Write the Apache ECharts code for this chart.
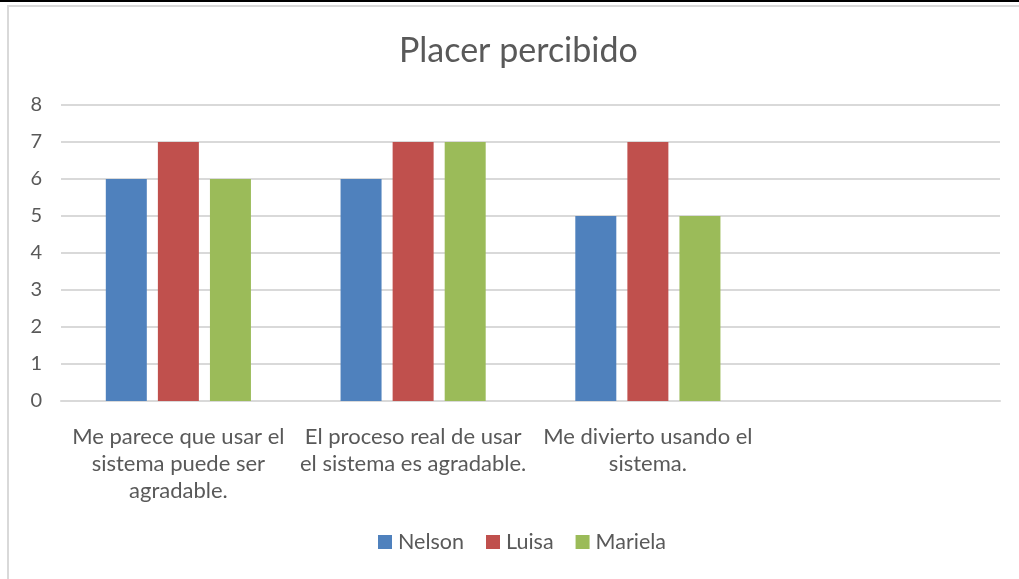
<!DOCTYPE html>
<html>
<head>
<meta charset="utf-8">
<script src="https://cdn.jsdelivr.net/npm/echarts@6/dist/echarts.min.js"></script>
<style>
  html, body { margin: 0; padding: 0; background: #fff; }
  #topline { position: absolute; left: 0; top: 0; width: 1019px; height: 2px; background: #000; }
  #frame { position: absolute; left: 7px; top: 5px; width: 1012px; height: 574px;
           border-left: 2px solid #d9d9d9; border-top: 2px solid #d9d9d9; box-sizing: border-box; }
  #chart { position: absolute; left: 0; top: 0; width: 1019px; height: 579px; }
</style>
</head>
<body>
<div id="topline"></div>
<div id="frame"></div>
<div id="chart"></div>
<script>
const categories = [
  'Me parece que usar el\nsistema puede ser\nagradable.',
  'El proceso real de usar\nel sistema es agradable.',
  'Me divierto usando el\nsistema.',
  ''
]
const nelson = [6, 6, 5, null]
const luisa = [7, 7, 7, null]
const mariela = [6, 7, 5, null]
const yTicks = [0, 1, 2, 3, 4, 5, 6, 7, 8]

const font = 'Lato, "Open Sans", sans-serif'
const textColor = '#595959'

const chart = echarts.init(document.getElementById('chart'), null, { renderer: 'canvas' })

const option = {
  animation: false,
  title: {
    text: 'Placer percibido',
    left: 394,
    top: 29,
    textStyle: { fontFamily: font, fontSize: 34, fontWeight: 'normal', color: textColor }
  },
  legend: {
    bottom: 21,
    left: 373,
    itemWidth: 14,
    itemHeight: 14,
    itemGap: 22,
    icon: 'rect',
    textStyle: { fontFamily: font, fontSize: 21.5, color: textColor, padding: [0, 0, 0, 1] },
    data: ['Nelson', 'Luisa', 'Mariela']
  },
  grid: { left: 61, right: 19, top: 105, bottom: 178, containLabel: false },
  xAxis: {
    type: 'category',
    data: categories,
    axisTick: { show: false },
    axisLine: { lineStyle: { color: '#d9d9d9', width: 2 } },
    axisLabel: {
      interval: 0,
      margin: 22,
      lineHeight: 27,
      fontFamily: font,
      fontSize: 22,
      color: textColor
    }
  },
  yAxis: {
    type: 'value',
    min: yTicks[0],
    max: yTicks[yTicks.length - 1],
    interval: 1,
    axisLine: { show: false },
    axisTick: { show: false },
    splitLine: { lineStyle: { color: '#d9d9d9', width: 2 } },
    axisLabel: { margin: 19, fontFamily: font, fontSize: 20, color: textColor }
  },
  series: [
    { name: 'Nelson', type: 'bar', data: nelson, barWidth: 41, barGap: '27%', itemStyle: { color: '#4f81bd' } },
    { name: 'Luisa', type: 'bar', data: luisa, barWidth: 41, barGap: '27%', itemStyle: { color: '#c0504d' } },
    { name: 'Mariela', type: 'bar', data: mariela, barWidth: 41, barGap: '27%', itemStyle: { color: '#9bbb59' } }
  ]
}

chart.setOption(option)
</script>
</body>
</html>
